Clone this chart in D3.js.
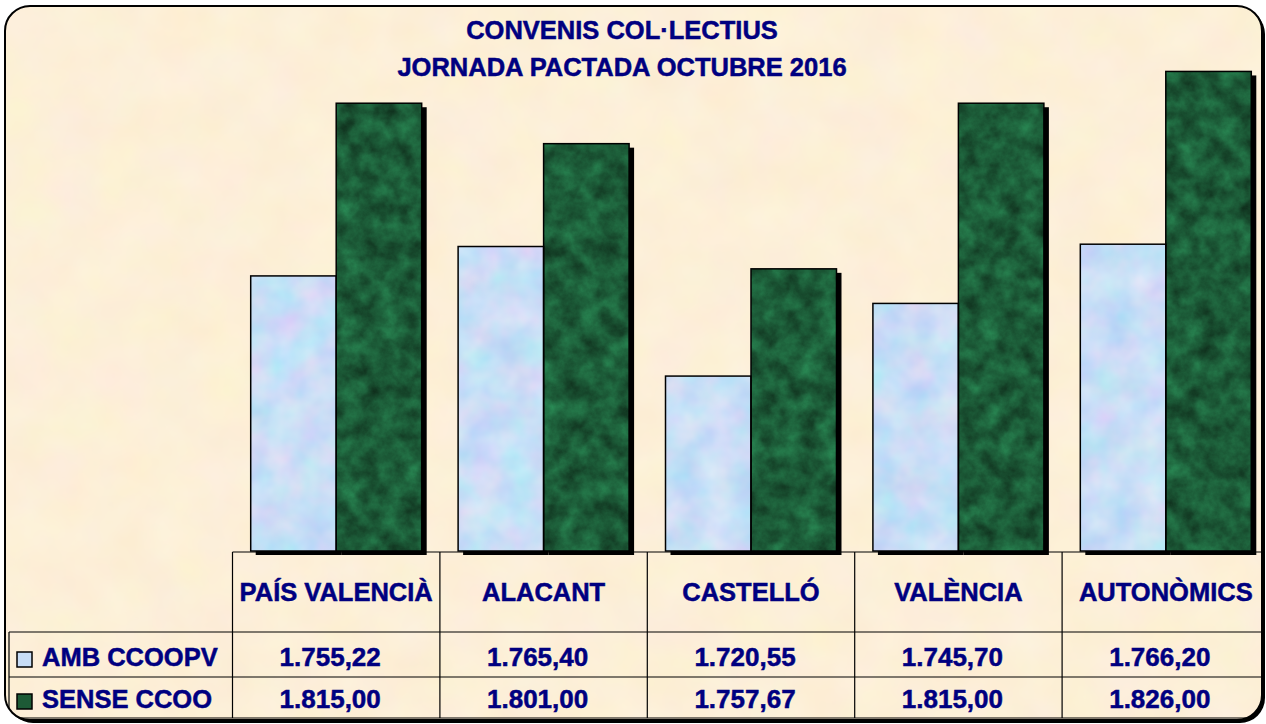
<!DOCTYPE html>
<html>
<head>
<meta charset="utf-8">
<script src="https://cdn.jsdelivr.net/npm/d3@7"></script>
<style>
  html, body { margin: 0; padding: 0; background: #ffffff; }
  svg { display: block; }
  text { font-family: "Liberation Sans", Arial, sans-serif; font-weight: bold; }
</style>
</head>
<body>
<svg id="chart" width="1266" height="724"></svg>
<script>
// ---- data ----
const titleLines = ["CONVENIS COL·LECTIUS", "JORNADA PACTADA OCTUBRE 2016"];
const categories = ["PAÍS VALENCIÀ", "ALACANT", "CASTELLÓ", "VALÈNCIA", "AUTONÒMICS"];
const seriesNames = ["AMB CCOOPV", "SENSE CCOO"];
const ambValues = [1755.22, 1765.40, 1720.55, 1745.70, 1766.20];
const senseValues = [1815.00, 1801.00, 1757.67, 1815.00, 1826.00];
const yDomain = [1660, 1840];

const seriesValues = [ambValues, senseValues];
const fmt = v => {
  const s = v.toFixed(2).split(".");
  return s[0].replace(/\B(?=(\d{3})+(?!\d))/g, ".") + "," + s[1];
};

const W = 1266, H = 724;
const svg = d3.select("#chart");
const defs = svg.append("defs");

// textures
function texFilter(id, freq, oct, seed, matrix) {
  const f = defs.append("filter").attr("id", id)
    .attr("x", 0).attr("y", 0).attr("width", 1).attr("height", 1)
    .attr("color-interpolation-filters", "sRGB");
  f.append("feTurbulence").attr("type", "fractalNoise")
    .attr("baseFrequency", freq).attr("numOctaves", oct).attr("seed", seed).attr("result", "n");
  f.append("feColorMatrix").attr("in", "n").attr("type", "matrix").attr("values", matrix).attr("result", "c");
  f.append("feComposite").attr("in", "c").attr("in2", "SourceGraphic").attr("operator", "in");
}
texFilter("paper", "0.02", 3, 4,
  "0.02 0 0 0 0.98  0 0.04 0 0 0.918  0 0 0.07 0 0.81  0 0 0 0 1");
texFilter("green", "0.05", 5, 7,
  "0.12 0 0 0 0.05  0.42 0 0 0 0.15  0.26 0 0 0 0.09  0 0 0 0 1");
texFilter("lilac", "0.03", 3, 11,
  "0.25 0 0 0 0.66  0 0.14 0 0 0.80  0 0 0.05 0 0.94  0 0 0 0 1");

// frame
const fx = 5, fy = 6, fw = 1257, fh = 714, fr = 25;
defs.append("clipPath").attr("id", "frameClip")
  .append("rect").attr("x", fx).attr("y", fy).attr("width", fw).attr("height", fh).attr("rx", fr);

svg.append("rect").attr("x", fx + 3).attr("y", fy + 3).attr("width", fw).attr("height", fh)
  .attr("rx", fr).attr("fill", "#000");
svg.append("rect").attr("x", fx).attr("y", fy).attr("width", fw).attr("height", fh)
  .attr("rx", fr).attr("fill", "#fcefd9");
svg.append("rect").attr("x", fx).attr("y", fy).attr("width", fw).attr("height", fh)
  .attr("rx", fr).attr("fill", "#fff").attr("filter", "url(#paper)");

const g = svg.append("g").attr("clip-path", "url(#frameClip)");

// scales
const x = d3.scaleBand().domain(categories).range([232.5, 1269.5]).paddingInner(0).paddingOuter(0);
const xs = d3.scaleBand().domain(seriesNames).range([0, x.bandwidth()]).paddingInner(0).paddingOuter(0.213);
const y = d3.scaleLinear().domain(yDomain).range([551, 31]);

const barData = [];
seriesNames.forEach((s, si) => categories.forEach((c, ci) => {
  barData.push({ s, si, c, v: seriesValues[si][ci] });
}));

// shadows
g.selectAll("rect.shadow").data(barData).join("rect").attr("class", "shadow")
  .attr("x", d => x(d.c) + xs(d.s) + 5)
  .attr("y", d => y(d.v) + 4)
  .attr("width", xs.bandwidth())
  .attr("height", d => y(yDomain[0]) - y(d.v))
  .attr("fill", "#000");

// bars (texture fill)
g.selectAll("rect.bar").data(barData).join("rect").attr("class", "bar")
  .attr("x", d => x(d.c) + xs(d.s))
  .attr("y", d => y(d.v))
  .attr("width", xs.bandwidth())
  .attr("height", d => y(yDomain[0]) - y(d.v))
  .attr("fill", "#fff")
  .attr("filter", d => d.si === 0 ? "url(#lilac)" : "url(#green)");
// bar outlines
g.selectAll("rect.outline").data(barData).join("rect").attr("class", "outline")
  .attr("x", d => x(d.c) + xs(d.s))
  .attr("y", d => y(d.v))
  .attr("width", xs.bandwidth())
  .attr("height", d => y(yDomain[0]) - y(d.v))
  .attr("fill", "none").attr("stroke", "#000").attr("stroke-width", 1.5);

const navy = "#000080";
// title
g.selectAll("text.title").data(titleLines).join("text").attr("class", "title")
  .attr("x", 622).attr("y", (d, i) => 39 + i * 36.5)
  .attr("text-anchor", "middle").attr("font-size", 25.5).attr("fill", navy)
  .attr("stroke", navy).attr("stroke-width", 0.5)
  .text(d => d);

// data table
const tableTop = 552, row1 = 632, row2 = 677, tableBottom = 718, tableLeft = 9;
const lines = g.append("g").attr("stroke", "#000").attr("stroke-width", 1.2);
lines.append("line").attr("x1", x.range()[0]).attr("x2", W).attr("y1", tableTop).attr("y2", tableTop);
[row1, row2, tableBottom].forEach(yy =>
  lines.append("line").attr("x1", tableLeft).attr("x2", W).attr("y1", yy).attr("y2", yy));
lines.append("line").attr("x1", tableLeft).attr("x2", tableLeft).attr("y1", row1).attr("y2", tableBottom);
categories.forEach(c =>
  lines.append("line").attr("x1", x(c)).attr("x2", x(c)).attr("y1", tableTop).attr("y2", tableBottom));

g.selectAll("text.cat").data(categories).join("text").attr("class", "cat")
  .attr("x", d => x(d) + x.bandwidth() / 2).attr("y", 601)
  .attr("text-anchor", "middle").attr("font-size", 25.5).attr("fill", navy)
  .attr("stroke", navy).attr("stroke-width", 0.5)
  .text(d => d);

const rowY = [666, 708];
seriesNames.forEach((s, si) => {
  g.append("rect").attr("x", 17).attr("y", rowY[si] - 14).attr("width", 15).attr("height", 15)
    .attr("fill", si === 0 ? "#c8ddf6" : "#1d5a36").attr("stroke", "#000").attr("stroke-width", 1.5);
  g.append("text").attr("x", 42).attr("y", rowY[si])
    .attr("font-size", 25.5).attr("fill", navy)
    .attr("stroke", navy).attr("stroke-width", 0.5).text(s);
  g.selectAll("text.val" + si).data(categories).join("text").attr("class", "val" + si)
    .attr("x", d => x(d) + x.bandwidth() / 2 - 6).attr("y", rowY[si])
    .attr("text-anchor", "middle").attr("font-size", 26).attr("fill", navy)
    .attr("stroke", navy).attr("stroke-width", 0.5)
    .text((d, ci) => fmt(seriesValues[si][ci]));
});

// frame outline
svg.append("rect").attr("x", fx).attr("y", fy).attr("width", fw).attr("height", fh)
  .attr("rx", fr).attr("fill", "none").attr("stroke", "#000").attr("stroke-width", 2);
</script>
</body>
</html>
